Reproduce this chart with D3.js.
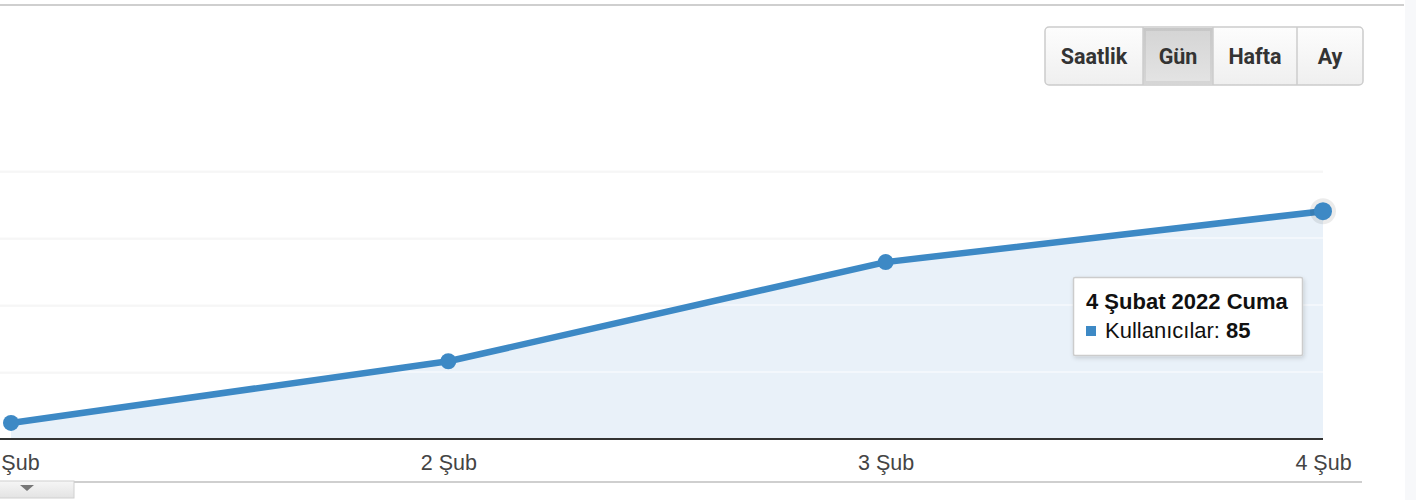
<!DOCTYPE html>
<html>
<head>
<meta charset="utf-8">
<script src="https://cdn.jsdelivr.net/npm/d3@7/dist/d3.min.js"></script>
<style>
  html, body { margin: 0; padding: 0; background: #fff; }
  svg { display: block; }
</style>
</head>
<body>
<svg id="chart" width="1416" height="500"></svg>
<script>
const categories = ["1 Şub", "2 Şub", "3 Şub", "4 Şub"];
const users = [6, 29, 66, 85];
const yTicks = [25, 50, 75, 100];
const buttons = ["Saatlik", "Gün", "Hafta", "Ay"];
const activeButton = "Gün";
const tooltipTitle = "4 Şubat 2022 Cuma";
const tooltipLabel = "Kullanıcılar: ";
const hoverIndex = 3;

const W = 1416, H = 500;
const svg = d3.select("#chart");
const defs = svg.append("defs");

const lineColor = "#3d89c5";
const areaColor = "#e9f1f9";
const axisFont = "'Liberation Sans', Arial, sans-serif";

// right side strip
svg.append("rect").attr("x", 1405).attr("y", 0).attr("width", W - 1405).attr("height", H).attr("fill", "#f7f8fa");
// top border
svg.append("line").attr("x1", 0).attr("x2", 1404).attr("y1", 5).attr("y2", 5)
  .attr("stroke", "#cfcfcf").attr("stroke-width", 2);

const x = d3.scalePoint().domain(categories).range([11, 1323]);
const y = d3.scaleLinear().domain([0, 100]).range([439, 171]);

// gridlines
const grid = svg.append("g").attr("class", "grid")
  .call(d3.axisLeft(y).tickValues(yTicks).tickSize(0).tickFormat(""));
grid.select(".domain").remove();
grid.selectAll(".tick line").attr("x1", 0).attr("x2", x(categories[categories.length - 1]))
  .attr("stroke", "#efefef").attr("stroke-width", 2);

// area
const area = d3.area().x((d, i) => x(categories[i])).y0(y(0)).y1(d => y(d));
svg.append("path").datum(users).attr("d", area).attr("fill", areaColor);

// grid lines faintly visible through the area
svg.append("g").selectAll("line").data(yTicks).join("line")
  .attr("x1", 0).attr("x2", x(categories[categories.length - 1]))
  .attr("y1", d => y(d)).attr("y2", d => y(d))
  .attr("stroke", "#ffffff").attr("stroke-opacity", 0.45).attr("stroke-width", 2);

// x axis
const xAxis = svg.append("g").attr("transform", `translate(0,${y(0)})`)
  .call(d3.axisBottom(x).tickSize(0).tickPadding(12));
xAxis.select(".domain").remove();
xAxis.selectAll("text").attr("font-family", axisFont).attr("font-size", 21.5).attr("fill", "#444").attr("dy", "0.9em");
svg.append("line").attr("x1", 0).attr("x2", x(categories[categories.length - 1]))
  .attr("y1", y(0)).attr("y2", y(0)).attr("stroke", "#333").attr("stroke-width", 2);

// line
const line = d3.line().x((d, i) => x(categories[i])).y(d => y(d));
svg.append("path").datum(users).attr("d", line).attr("fill", "none")
  .attr("stroke", lineColor).attr("stroke-width", 6.5).attr("stroke-linejoin", "round");

// hover halo
svg.append("circle").attr("cx", x(categories[hoverIndex])).attr("cy", y(users[hoverIndex]))
  .attr("r", 13).attr("fill", "rgba(0,0,0,0.08)");

// points
svg.append("g").selectAll("circle").data(users).join("circle")
  .attr("cx", (d, i) => x(categories[i])).attr("cy", d => y(d))
  .attr("r", (d, i) => i === hoverIndex ? 9 : 8).attr("fill", lineColor);

// bottom border & tab
svg.append("line").attr("x1", 74).attr("x2", 1362).attr("y1", 482).attr("y2", 482)
  .attr("stroke", "#cfcfcf").attr("stroke-width", 2);
const tabGrad = defs.append("linearGradient").attr("id", "tabGrad").attr("x1", 0).attr("x2", 0).attr("y1", 0).attr("y2", 1);
tabGrad.append("stop").attr("offset", "0%").attr("stop-color", "#f6f6f6");
tabGrad.append("stop").attr("offset", "100%").attr("stop-color", "#e3e3e3");
svg.append("rect").attr("x", -2).attr("y", 481).attr("width", 76).attr("height", 17)
  .attr("fill", "url(#tabGrad)").attr("stroke", "#d0d0d0").attr("stroke-width", 1);
svg.append("path").attr("d", "M20,485 L34,485 L27,491 Z").attr("fill", "#777");

// buttons
const btnGrad = defs.append("linearGradient").attr("id", "btnGrad").attr("x1", 0).attr("x2", 0).attr("y1", 0).attr("y2", 1);
btnGrad.append("stop").attr("offset", "0%").attr("stop-color", "#fdfdfd");
btnGrad.append("stop").attr("offset", "100%").attr("stop-color", "#efefef");
const actGrad = defs.append("linearGradient").attr("id", "actGrad").attr("x1", 0).attr("x2", 0).attr("y1", 0).attr("y2", 1);
actGrad.append("stop").attr("offset", "0%").attr("stop-color", "#d4d4d4");
actGrad.append("stop").attr("offset", "100%").attr("stop-color", "#e4e4e4");

const btnEdges = [1045, 1143, 1213, 1297, 1363];
const btnTop = 27, btnH = 58;
const bx = d3.scaleOrdinal().domain(buttons).range(btnEdges.slice(0, 4));
const bw = d3.scaleOrdinal().domain(buttons).range(btnEdges.slice(1).map((e, i) => e - btnEdges[i]));
const bg = svg.append("g");
bg.append("rect").attr("x", btnEdges[0]).attr("y", btnTop).attr("width", btnEdges[4] - btnEdges[0]).attr("height", btnH)
  .attr("rx", 4).attr("fill", "url(#btnGrad)").attr("stroke", "#cccccc").attr("stroke-width", 1.5);
buttons.forEach(b => {
  if (b === activeButton) {
    bg.append("rect").attr("x", bx(b)).attr("y", btnTop + 1).attr("width", bw(b)).attr("height", btnH - 2)
      .attr("fill", "url(#actGrad)");
    bg.append("rect").attr("x", bx(b) + 1.5).attr("y", btnTop + 2.5).attr("width", bw(b) - 3).attr("height", btnH - 5)
      .attr("fill", "none").attr("stroke", "rgba(0,0,0,0.06)").attr("stroke-width", 3);
  }
});
btnEdges.slice(1, 4).forEach(e => {
  bg.append("line").attr("x1", e).attr("x2", e).attr("y1", btnTop).attr("y2", btnTop + btnH)
    .attr("stroke", "#cccccc").attr("stroke-width", 1.5);
});
bg.selectAll("text").data(buttons).join("text")
  .attr("x", d => bx(d) + bw(d) / 2).attr("y", 64)
  .attr("text-anchor", "middle").attr("font-family", "Roboto, sans-serif").attr("font-weight", "bold")
  .attr("font-size", 21.5).attr("fill", "#333").text(d => d);

// tooltip
const filt = defs.append("filter").attr("id", "shadow").attr("x", "-10%").attr("y", "-10%").attr("width", "130%").attr("height", "140%");
filt.append("feDropShadow").attr("dx", 1).attr("dy", 2).attr("stdDeviation", 2).attr("flood-color", "#000").attr("flood-opacity", 0.15);
const tt = svg.append("g");
tt.append("rect").attr("x", 1073.5).attr("y", 277.5).attr("width", 229).attr("height", 78)
  .attr("fill", "#fff").attr("stroke", "#cccccc").attr("stroke-width", 1.5).attr("rx", 1.5).attr("filter", "url(#shadow)");
tt.append("text").attr("x", 1086).attr("y", 309).attr("font-family", axisFont).attr("font-weight", "bold")
  .attr("font-size", 22).attr("fill", "#111").text(tooltipTitle);
tt.append("rect").attr("x", 1086).attr("y", 326).attr("width", 10).attr("height", 10).attr("fill", lineColor);
const t2 = tt.append("text").attr("x", 1105).attr("y", 338).attr("font-family", axisFont).attr("font-size", 22).attr("fill", "#111");
t2.append("tspan").text(tooltipLabel);
t2.append("tspan").attr("font-weight", "bold").text(users[hoverIndex]);
</script>
</body>
</html>
